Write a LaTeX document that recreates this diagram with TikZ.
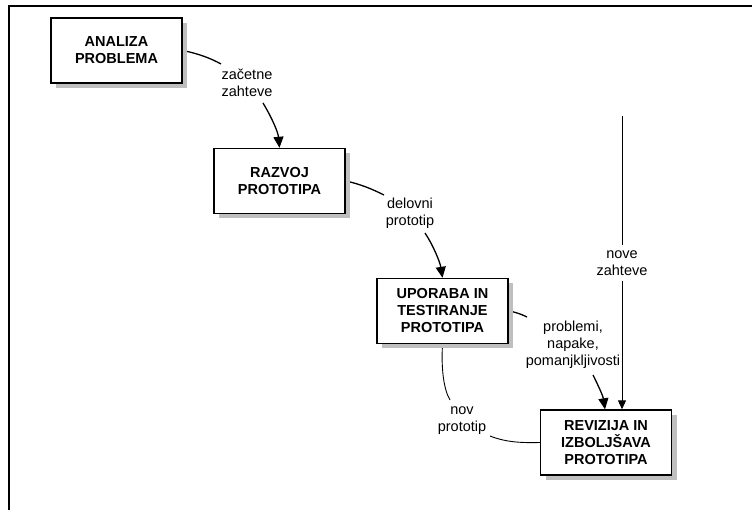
\documentclass[tikz,border=0pt]{standalone}
\usepackage{fontspec}
\setmainfont{Liberation Sans}
\usetikzlibrary{arrows.meta,shadows}
\pgfdeclarelayer{bg}
\pgfsetlayers{bg,main}
\begin{document}
\begin{tikzpicture}[x=1pt,y=-1pt,
  proc/.style={draw,line width=1.4pt,fill=white,minimum width=131pt,minimum height=65pt,
    inner sep=0pt,align=center,font=\fontsize{14.5}{17}\selectfont\bfseries,
    drop shadow={shadow xshift=5pt,shadow yshift=-5pt,opacity=1,fill=black!25,draw=none}},
  lbl/.style={align=center,inner sep=0pt,font=\fontsize{14.5}{17}\selectfont},
  flow/.style={line width=1.3pt,-{Triangle[length=11pt,width=10pt]}},
  plain/.style={line width=1.3pt},
  thinflow/.style={line width=0.9pt,-{Triangle[length=9pt,width=8pt]}},
  thinline/.style={line width=0.9pt}]
\useasboundingbox (0,0) rectangle (752,510);
\draw[line width=1.5pt] (752,6) -- (9,6) -- (9,510);

\node[proc] (A) at (116.5,50.5) {ANALIZA\\PROBLEMA};
\node[proc] (R) at (279.5,181) {RAZVOJ\\PROTOTIPA};
\node[proc] (U) at (442.5,311) {UPORABA IN\\TESTIRANJE\\PROTOTIPA};
\node[proc] (V) at (606,442.5) {REVIZIJA IN\\IZBOLJŠAVA\\PROTOTIPA};

\node[lbl] (l1) at (247,83) {začetne\\zahteve};
\node[lbl] (l2) at (410,213) {delovni\\prototip};
\node[lbl] (l3) at (573,345) {problemi,\\napake,\\pomanjkljivosti};
\node[lbl] (l4) at (622,263) {nove\\zahteve};
\node[lbl] (l5) at (462,421) {nov\\prototip};
\coordinate (nz) at (622,116);

\begin{pgfonlayer}{bg}
\draw[plain] (A.east) .. controls (200,54) and (212,59) .. ([shift={(-26,-19)}]l1.center);
\draw[flow] ([shift={(16,20)}]l1.center) .. controls (272,118) and (278,132) .. (R.north);
\draw[plain] (R.east) .. controls (360,184) and (372,189) .. ([shift={(-26,-18)}]l2.center);
\draw[flow] ([shift={(15,20)}]l2.center) .. controls (433,245) and (440,262) .. (U.north);
\draw[plain] (U.east) .. controls (515,312) and (521,314) .. ([shift={(-46,-28)}]l3.center);
\draw[flow] ([shift={(20,30)}]l3.center) .. controls (598,385) and (603,396) .. ([xshift=-1pt]V.north);
\draw[thinline] (nz) -- ([yshift=5pt]l4.north);
\draw[thinflow] ([yshift=-5pt]l4.south) -- ([xshift=16pt]V.north);
\draw[thinline] (U.south) .. controls (441,370) and (444,390) .. ([shift={(-12,-21)}]l5.center);
\draw[thinline] ([shift={(28,15)}]l5.center) .. controls (505,442) and (520,443) .. (V.west);
\end{pgfonlayer}
\end{tikzpicture}
\end{document}
